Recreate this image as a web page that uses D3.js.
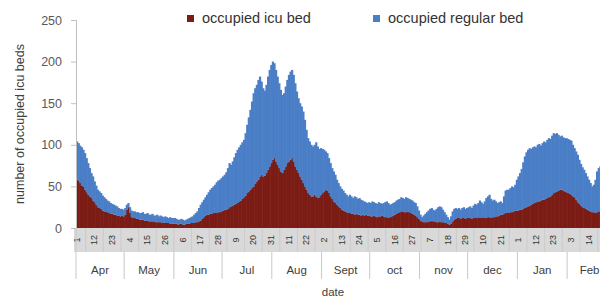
<!DOCTYPE html>
<html>
<head>
<meta charset="utf-8">
<script src="https://cdn.jsdelivr.net/npm/d3@7"></script>
<style>
    body { margin: 0; background: #fff; }
    svg { display: block; font-family: "Liberation Sans", Arial, sans-serif; }
</style>
</head>
<body>
<div id="chart"></div>
<script>
// Daily occupied beds, 1 Apr -> late Feb (one value per day, month by month)
const icuBeds = [
    58, 57, 54, 51, 50, 46, 43, 40, 38, 36, 33, 31, 28, 25, 24, 23, 21, 20, 20, 19, 18, 17, 17, 16, 16, 15, 15, 14, 15, 14,      // Apr
    16, 22, 25, 18, 13, 12, 12, 11, 11, 10, 10, 10, 9, 9, 9, 8, 8, 8, 8, 7, 7, 7, 7, 6, 6, 6, 6, 6, 5, 5, 5,                    // May
    5, 5, 4, 5, 5, 4, 4, 5, 5, 5, 6, 6, 6, 7, 7, 8, 9, 11, 13, 15, 16, 16, 17, 17, 18, 18, 18, 19, 19, 20,                      // Jun
    21, 22, 22, 23, 25, 26, 27, 28, 29, 30, 32, 33, 35, 37, 39, 42, 44, 46, 48, 50, 53, 56, 58, 62, 64, 62, 63, 66, 70, 74, 78, // Jul
    82, 84, 80, 76, 72, 68, 66, 70, 74, 78, 80, 82, 84, 80, 74, 70, 66, 62, 58, 54, 50, 46, 42, 40, 38, 38, 40, 38, 36, 37, 40, // Aug
    42, 44, 46, 45, 42, 38, 35, 32, 30, 28, 26, 24, 22, 21, 20, 19, 18, 18, 17, 17, 16, 17, 16, 16, 15, 16, 15, 16, 15, 15,     // Sept
    14, 14, 15, 14, 13, 14, 14, 15, 14, 13, 13, 12, 13, 14, 15, 16, 17, 18, 19, 20, 20, 19, 19, 20, 19, 18, 17, 16, 15, 13, 11, // oct
    9, 8, 7, 7, 7, 8, 8, 9, 8, 8, 7, 7, 8, 7, 7, 6, 6, 5, 4, 5, 8, 10, 11, 12, 12, 11, 12, 12, 11, 12,                         // nov
    12, 12, 11, 12, 12, 12, 13, 12, 12, 13, 12, 12, 13, 13, 12, 13, 13, 14, 14, 15, 16, 16, 17, 18, 18, 18, 19, 19, 20, 21, 21, // dec
    21, 22, 22, 23, 24, 25, 26, 27, 28, 29, 30, 31, 32, 32, 33, 34, 34, 35, 36, 37, 38, 40, 42, 43, 44, 45, 46, 46, 45, 44, 43, // Jan
    42, 41, 40, 38, 37, 34, 31, 29, 27, 25, 24, 23, 22, 21, 20, 19, 19, 18, 19, 20, 21                                          // Feb
];

const regularBeds = [
    46, 45, 45, 46, 44, 44, 41, 38, 34, 30, 29, 25, 23, 21, 20, 19, 18, 17, 15, 14, 14, 13, 12, 12, 11, 11, 9, 9, 8, 8,
    8, 6, 5, 7, 8, 8, 8, 8, 8, 8, 8, 9, 8, 8, 9, 8, 8, 9, 7, 8, 9, 7, 8, 8, 7, 8, 7, 6, 8, 7, 7,
    7, 6, 6, 5, 6, 6, 5, 5, 6, 7, 7, 8, 10, 11, 13, 16, 19, 20, 21, 22, 24, 27, 29, 31, 32, 34, 37, 38, 39, 40,
    41, 42, 45, 49, 53, 50, 53, 57, 61, 64, 65, 67, 68, 69, 75, 82, 89, 96, 104, 112, 115, 116, 120, 120, 112, 106, 102, 106, 112, 116, 118,
    118, 114, 110, 106, 102, 98, 94, 92, 96, 100, 104, 106, 106, 104, 100, 94, 90, 88, 88, 86, 80, 72, 66, 64, 62, 60, 60, 65, 62, 58, 56,
    53, 50, 46, 45, 42, 40, 37, 36, 34, 30, 28, 26, 25, 24, 22, 21, 20, 22, 21, 19, 22, 20, 19, 20, 19, 17, 17, 15, 15, 16,
    16, 18, 16, 16, 16, 17, 16, 14, 16, 18, 19, 18, 15, 15, 15, 15, 16, 16, 16, 17, 16, 16, 18, 16, 16, 16, 16, 15, 15, 13, 10,
    7, 5, 8, 10, 12, 13, 15, 15, 14, 13, 16, 18, 18, 18, 15, 13, 10, 8, 6, 9, 12, 13, 13, 11, 12, 11, 12, 13, 12, 12,
    13, 14, 13, 15, 17, 16, 17, 21, 19, 16, 20, 24, 25, 27, 23, 20, 21, 18, 16, 16, 16, 14, 21, 27, 28, 28, 29, 31, 29, 31, 37,
    41, 44, 49, 56, 62, 66, 68, 69, 67, 68, 68, 66, 68, 69, 66, 68, 70, 68, 70, 71, 69, 71, 72, 70, 70, 67, 64, 65, 64, 64, 65,
    65, 65, 65, 62, 59, 58, 57, 53, 50, 48, 46, 43, 40, 37, 34, 31, 33, 40, 49, 52, 53
];

const monthNames = ["Apr", "May", "Jun", "Jul", "Aug", "Sept", "oct", "nov", "dec", "Jan", "Feb"];
const yTicks = [0, 50, 100, 150, 200, 250];
const seriesNames = ["occupied icu bed", "occupied regular bed"];
const seriesColors = ["#7b1c15", "#4a7ec6"];
const labelEvery = 11; // a day label every 11 days

// Category axis: every day from 1 Apr to end of Feb
const days = d3.timeDay.range(new Date(2020, 3, 1), new Date(2021, 2, 1));
const rows = days.map((d, i) => ({
    i: i,
    date: d,
    icu: icuBeds[i],
    regular: regularBeds[i]
})).filter(r => r.icu !== undefined);

const W = 600, H = 299;
const plot = { left: 76, top: 20, bottom: 228 };
const dayWidth = 1.605;

const svg = d3.select("#chart")
    .append("svg")
    .attr("width", W)
    .attr("height", H);

const x = d3.scaleBand()
    .domain(d3.range(days.length))
    .range([plot.left, plot.left + days.length * dayWidth])
    .paddingInner(0);

const y = d3.scaleLinear()
    .domain([0, 250])
    .range([plot.bottom, plot.top]);

// Category band under the plot (gray row with day numbers)
svg.append("rect")
    .attr("x", plot.left - 2)
    .attr("y", plot.bottom)
    .attr("width", W)
    .attr("height", 24)
    .style("fill", "#d9d9d9");

// Stacked daily columns
const stack = d3.stack().keys(["icu", "regular"]);
const layers = stack(rows);

svg.append("g")
    .selectAll("g")
    .data(layers)
    .enter()
    .append("g")
    .style("fill", (d, i) => seriesColors[i])
    .selectAll("rect")
    .data(d => d)
    .enter()
    .append("rect")
    .attr("x", d => x(d.data.i))
    .attr("y", d => y(d[1]))
    .attr("width", x.bandwidth() + 0.6)
    .attr("height", d => y(d[0]) - y(d[1]));

// Y axis
const yAxis = svg.append("g")
    .attr("transform", `translate(${plot.left},0)`)
    .call(d3.axisLeft(y).tickValues(yTicks).tickSize(5).tickPadding(9));

yAxis.select(".domain").style("stroke", "#bfbfbf");
yAxis.selectAll(".tick line").style("stroke", "#bfbfbf");
yAxis.selectAll(".tick text")
    .style("font-size", "12.5px")
    .style("fill", "#595959");

svg.append("text")
    .attr("transform", "translate(24,124) rotate(-90)")
    .attr("text-anchor", "middle")
    .style("font-size", "12.5px")
    .style("fill", "#404040")
    .text("number of occupied icu beds");

// Day labels, rotated, every 11 days (only those inside the picture)
const labelDays = days.map((d, i) => i)
    .filter(i => i % labelEvery === 0 && x(i) + 8 < W);

svg.append("g")
    .selectAll("line")
    .data(labelDays)
    .enter()
    .append("line")
    .attr("x1", i => x(i) + x.bandwidth() / 2 + labelEvery * dayWidth / 2)
    .attr("x2", i => x(i) + x.bandwidth() / 2 + labelEvery * dayWidth / 2)
    .attr("y1", plot.bottom)
    .attr("y2", plot.bottom + 24)
    .style("stroke", "#c8c8c8")
    .style("stroke-width", 0.8);

svg.append("g")
    .selectAll("text")
    .data(labelDays)
    .enter()
    .append("text")
    .attr("transform", i => `translate(${x(i) + x.bandwidth() / 2 + 3},${plot.bottom + 12}) rotate(-90)`)
    .attr("text-anchor", "middle")
    .style("font-size", "9px")
    .style("fill", "#333")
    .text(i => days[i].getDate());

// Month row with separators
const monthStarts = d3.timeMonth.range(days[0], new Date(2021, 2, 1));
const months = monthStarts.map((m, k) => {
    const first = days.findIndex(d => +d === +m);
    const next = k + 1 < monthStarts.length
        ? days.findIndex(d => +d === +monthStarts[k + 1])
        : days.length;
    return { name: monthNames[k], x0: x(first), x1: x(next - 1) + x.bandwidth() };
});

svg.append("g")
    .selectAll("line")
    .data(months)
    .enter()
    .append("line")
    .attr("x1", d => d.x1)
    .attr("x2", d => d.x1)
    .attr("y1", plot.bottom + 24)
    .attr("y2", 279)
    .style("stroke", "#c8c8c8")
    .style("stroke-width", 1);

svg.append("line")
    .attr("x1", plot.left)
    .attr("x2", plot.left)
    .attr("y1", plot.bottom)
    .attr("y2", 279)
    .style("stroke", "#c8c8c8");

svg.append("g")
    .selectAll("text")
    .data(months)
    .enter()
    .append("text")
    .attr("x", d => (d.x0 + d.x1) / 2)
    .attr("y", 274)
    .attr("text-anchor", "middle")
    .style("font-size", "11.5px")
    .style("fill", "#404040")
    .text(d => d.name);

svg.append("text")
    .attr("x", 333)
    .attr("y", 296)
    .attr("text-anchor", "middle")
    .style("font-size", "11.5px")
    .style("fill", "#404040")
    .text("date");

// Legend
const legendX = [187, 373];
const legend = svg.append("g")
    .selectAll("g")
    .data(seriesNames)
    .enter()
    .append("g")
    .attr("transform", (d, i) => `translate(${legendX[i]},15)`);

legend.append("rect")
    .attr("width", 7)
    .attr("height", 7)
    .style("fill", (d, i) => seriesColors[i]);

legend.append("text")
    .attr("x", 15)
    .attr("y", 8)
    .style("font-size", "14.5px")
    .style("fill", "#333")
    .text(d => d);
</script>
</body>
</html>
